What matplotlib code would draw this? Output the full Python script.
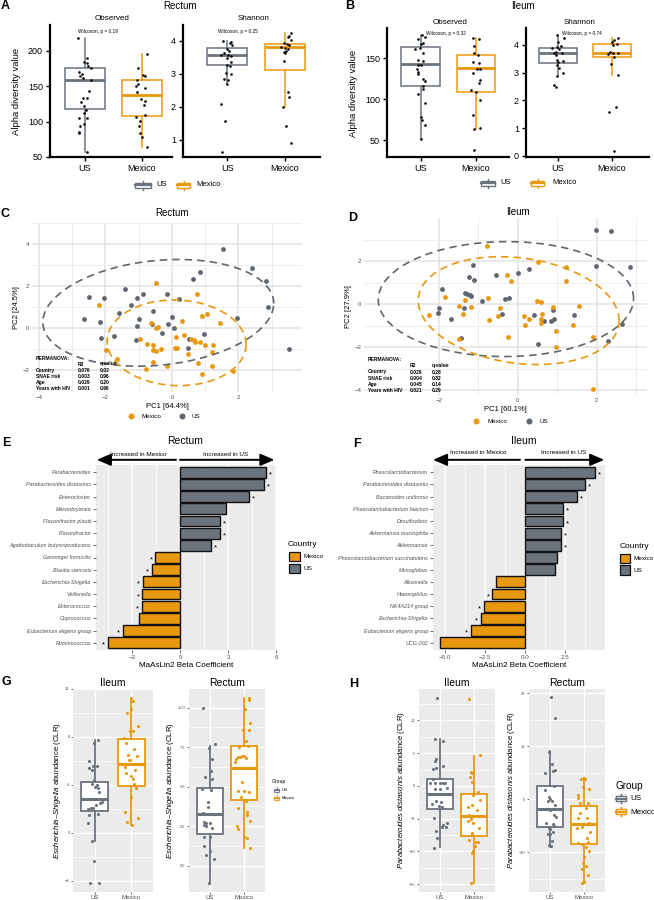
import numpy as np
import matplotlib
matplotlib.use("Agg")
import matplotlib.pyplot as plt
from matplotlib.patches import Rectangle
from matplotlib.lines import Line2D

plt.rcParams["font.family"] = ["Liberation Sans", "DejaVu Sans"]
plt.rcParams["mathtext.fontset"] = "custom"
plt.rcParams["mathtext.it"] = "Liberation Sans:italic"
plt.rcParams["mathtext.rm"] = "Liberation Sans"

W, H = 654, 900
US_COL = "#6B737C"
MX_COL = "#E8980E"
PCA_GRAY = "#5F6670"
BAR_GRAY = "#6B737B"

# ---------------- data ----------------
# A: rectum alpha diversity (values, jitter offsets)
a_obs_us = [219, 189.6, 184, 183, 178.8, 175.5, 170.8, 168, 165, 162, 158.5, 143.4, 133, 133,
            127.8, 121.7, 117, 112, 105.7, 104.7, 97, 93.4, 86, 84, 57]
a_obs_us_dx = [-0.13, 0.03, -0.02, 0.04, 0.06, 0.1, -0.1, -0.06, -0.08, -0.04, 0.1, 0.08, -0.04, 0.03,
               -0.07, -0.02, 0.02, -0.01, 0.04, -0.1, -0.02, -0.09, -0.1, -0.1, 0.04]
a_obs_mx = [195, 176, 165.6, 164, 159.4, 153.8, 151, 148, 142.5, 132.5, 129, 124, 109, 107, 101.4,
            93.4, 84, 78.3, 64]
a_obs_mx_dx = [0.09, -0.07, 0.02, 0.06, -0.09, -0.07, -0.1, 0.06, -0.09, -0.01, 0.06, 0.03, 0.06,
               -0.1, -0.03, -0.05, -0.04, 0.01, 0.09]
a_sha_us = [4.0, 3.97, 3.92, 3.87, 3.74, 3.7, 3.62, 3.57, 3.55, 3.52, 3.46, 3.36, 3.27, 3.24, 3.03,
            3.0, 2.83, 2.81, 2.68, 2.08, 1.57, 0.65]
a_sha_us_dx = [-0.07, 0.07, 0.05, 0.09, 0, 0.03, -0.05, 0.02, -0.1, 0.06, 0, 0.07, 0, 0.05, -0.02,
               0.06, -0.06, 0.02, -0.01, -0.1, -0.03, -0.09]
a_sha_mx = [4.24, 4.14, 4.1, 4.02, 3.92, 3.89, 3.86, 3.82, 3.79, 3.76, 3.7, 3.67, 3.62, 3.37, 2.44,
            2.31, 2.0, 1.43, 0.92]
a_sha_mx_dx = [0.1, 0.08, 0.06, 0.11, -0.02, 0.03, 0.08, -0.06, 0, 0.06, 0.02, -0.02, 0.01, -0.02,
               0.06, 0.07, -0.03, 0.02, 0.1]
# box stats: whislo, q1, median, q3, whishi
a_obs_box_us = [57, 118, 158.5, 176, 219]
a_obs_box_mx = [64, 108, 137.3, 158.5, 195]
a_sha_box_us = [2.68, 3.26, 3.55, 3.78, 4.0]
a_sha_box_mx = [2.0, 3.12, 3.8, 3.91, 4.22]

# B: ileum alpha diversity
b_obs_us = [177.5, 176, 172.7, 168, 167, 160.5, 162.5, 156.5, 148, 146, 142, 141, 136, 133, 131, 125,
            122, 116, 112.8, 106, 95, 77.5, 74, 68.6, 50.8]
b_obs_us_dx = [0.02, 0.07, -0.04, 0.05, 0.01, -0.1, -0.02, 0.04, -0.05, 0.04, -0.05, 0, -0.07, -0.04,
               -0.05, 0.04, 0.07, 0.04, 0.05, -0.05, 0.07, 0, 0.02, 0.07, 0]
b_obs_mx = [174, 172.7, 165, 156, 154, 145, 144.3, 137, 136, 132, 123, 119, 111.5, 108.3, 99.4, 80,
            65, 63, 38]
b_obs_mx_dx = [-0.05, 0.05, -0.04, -0.04, 0.04, -0.05, 0.05, 0.02, 0.07, -0.06, 0.08, 0.05, -0.08, 0,
               0.08, -0.05, 0.07, -0.04, -0.04]
b_sha_us = [4.36, 4.26, 4.12, 3.96, 3.94, 3.88, 3.84, 3.76, 3.7, 3.7, 3.64, 3.46, 3.42, 3.39, 3.28,
            3.16, 2.98, 2.88, 2.56, 2.47]
b_sha_us_dx = [-0.02, 0.11, 0, 0.05, -0.02, -0.1, 0.02, -0.03, -0.07, 0.07, -0.04, -0.01, 0.09, 0,
               -0.02, 0.03, 0.1, -0.01, -0.07, -0.04]
b_sha_mx = [4.26, 4.18, 4.12, 4.04, 4.0, 3.76, 3.72, 3.72, 3.68, 3.58, 3.3, 2.92, 1.78, 1.57, 0.19]
b_sha_mx_dx = [0.11, 0.05, 0, 0.09, 0.02, -0.04, 0.02, 0.11, -0.07, 0.04, -0.02, 0.11, 0.07, -0.06,
               0.05]
b_obs_box_us = [50.8, 116, 142.3, 163, 177.5]
b_obs_box_mx = [63, 108.3, 137.9, 154, 174]
b_sha_box_us = [2.88, 3.36, 3.7, 3.9, 4.36]
b_sha_box_mx = [2.92, 3.57, 3.72, 4.05, 4.26]

# C: rectum PCA
c_us_x = [1.53, 2.40, 0.83, 0.63, 2.83, -1.42, -0.87, -0.16, -2.50, -2.05, -1.04, 0.20, -1.22, 2.89,
          -0.56, -1.58, -2.64, -1.00, 1.97, 0.01, -2.18, -0.59, -0.11, -1.05, 0.07, -0.29, 0.96,
          -2.12, -1.74, -1.08, 0.51, 0.47, 3.53]
c_us_y = [3.77, 2.84, 2.67, 2.34, 2.24, 1.87, 1.61, 1.60, 1.49, 1.40, 1.43, 1.39, 1.10, 1.00, 0.80,
          0.73, 0.43, 0.41, 0.46, 0.53, 0.30, 0.20, 0.19, 0.09, 0.0, -0.27, -0.30, -0.49, -0.41,
          -0.59, -0.51, -0.94, -1.01]
c_mx_x = [-0.48, 0.74, -2.20, 1.05, 0.90, 0.30, 1.44, -0.64, -0.42, -0.48, 0.35, -0.97, 0.12, 0.56,
          0.65, 0.69, 0.85, -0.75, -0.56, 1.00, 1.23, -0.33, 0.10, 0.15, -0.58, -0.47, -1.98, 1.21,
          0.47, -1.64, -0.57, 0.78, -0.15, 1.21, -0.78, 1.83, 0.90]
c_mx_y = [2.16, 1.61, 1.09, 0.66, 0.56, 0.33, 0.21, 0.21, 0.04, -0.01, -0.33, -0.51, -0.43, -0.51,
          -0.57, -0.69, -0.67, -0.79, -0.84, -0.84, -0.84, -1.00, -0.94, -0.97, -1.07, -1.11, -1.07,
          -1.16, -1.23, -1.50, -1.61, -1.66, -1.80, -1.84, -1.97, -2.04, -2.19]

# D: ileum PCA
d_us_x = [1.97, 2.35, 1.97, 2.84, 0.28, -1.12, 0.0, -0.54, -1.24, -1.11, -1.92, -1.34, -1.28, -1.22,
          -1.18, -0.21, -0.32, -0.91, -1.98, -1.37, -2.02, -0.39, 0.41, 1.42, 0.89, 0.91, 0.66, 0.85,
          -1.69, 2.64, -1.43, 2.29, 0.51]
d_us_y = [3.44, 3.40, 1.75, 1.72, 1.61, 1.83, 1.44, 1.35, 1.24, 1.10, 0.71, 0.51, 0.48, 0.43, 0.36,
          0.29, 0.23, 0.14, -0.17, -0.20, -0.40, -0.47, -0.53, -0.51, -0.26, -0.68, -0.78, -0.79,
          -0.70, -0.93, -1.57, -1.71, -1.84]
d_mx_x = [-0.78, 0.51, 1.23, -0.27, -0.16, 1.22, -1.83, -0.75, -1.34, 0.49, 0.59, -1.49, 1.54, -1.18,
          0.89, -2.24, -0.44, -0.50, 0.15, -1.39, 0.62, 0.28, -0.72, 0.59, 0.19, 0.58, 1.40, 0.96,
          -0.24, -1.49, 1.91, 0.96, 1.90]
d_mx_y = [2.71, 1.94, 1.72, 1.33, 1.07, 1.05, 0.33, 0.28, 0.20, 0.14, 0.08, -0.09, -0.09, -0.12,
          -0.12, -0.53, -0.17, -0.56, -0.56, -0.45, -0.48, -0.71, -0.73, -0.70, -0.96, -0.88, -0.99,
          -1.27, -1.55, -1.61, -1.53, -2.0, -3.97]

perm_terms = ["Country", "SNAE risk", "Age", "Years with HIV"]
c_perm_r2 = ["0.076", "0.003", "0.029", "0.001"]
c_perm_q = ["0.02", "0.96", "0.20", "0.96"]
d_perm_r2 = ["0.029", "0.004", "0.045", "0.021"]
d_perm_q = ["0.28", "0.82", "0.14", "0.29"]

# E / F: MaAsLin2 coefficients
e_taxa = ["Parabacteroides", "Parabacteroides distasonis", "Enterocloster", "Marvinbryantia",
          "Flavonifractor plautii", "Flavonifractor", "Agathobaculum butyriciproducens",
          "Gemmiger formicilis", "Blautia stercoris", "Escherichia-Shigella", "Veillonella",
          "Enterococcus", "Coprococcus", "Eubacterium eligens group", "Ruminococcus"]
e_beta = [5.37, 5.23, 4.31, 2.90, 2.50, 2.50, 1.94, -1.54, -1.75, -2.31, -2.35, -2.40, -2.58,
          -3.58, -4.50]
e_sig = [1, 1, 1, 0, 1, 1, 1, 1, 1, 1, 1, 1, 0, 1, 1]
f_taxa = ["Phascolarctobacterium", "Parabacteroides distasonis", "Bacteroides uniformis",
          "Phascolarctobacterium faecium", "Desulfovibrio", "Akkermansia muciniphila", "Akkermansia",
          "Phascolarctobacterium succinatutens", "Monoglobus", "Allisonella", "Haemophilus",
          "NK4A214 group", "Escherichia-Shigella", "Eubacterium eligens group", "UCG-002"]
f_beta = [4.33, 3.71, 3.25, 2.33, 2.33, 2.25, 2.25, 1.96, 1.85, -1.83, -2.06, -2.60, -2.77, -3.40,
          -5.31]
f_sig = [1, 1, 1, 1, 1, 1, 1, 0, 0, 0, 1, 1, 1, 1, 0]

# G: Escherichia-Shigella CLR
g_il_us = [7.7, 7.5, 6.0, 5.4, 5.6, 5.6, 5.2, 4.4, 4.1, 4.0, 3.4, 3.8, 3.7, 2.8, 2.5, 2.6, 2.3, 2.1,
           2.0, 2.1, 1.45, 1.55, 0.78, -0.67, -2.36, -4.17, -4.17]
g_il_us_dx = [0.09, -0.02, -0.16, -0.17, -0.06, 0.05, -0.09, -0.02, -0.07, 0.05, 0.12, 0, 0.08, -0.02,
              0.14, 0.19, 0.03, -0.1, -0.18, -0.06, -0.16, 0.09, -0.18, -0.08, -0.01, -0.12, 0.12]
g_il_mx = [11.25, 11.0, 10.3, 10.0, 8.9, 8.5, 8.5, 7.9, 7.0, 6.5, 6.4, 6.1, 5.45, 5.2, 5.0, 4.7, 4.5,
           4.1, 3.7, 3.0, 1.75, 1.25, 0.92, 0.64, 7.45, 6.05]
g_il_mx_dx = [-0.01, 0.06, 0, -0.12, 0.19, 0.06, -0.03, -0.2, 0.08, -0.09, 0.17, -0.03, -0.18, 0.11,
              -0.14, 0, 0.06, 0.08, 0.14, -0.01, -0.17, 0.19, -0.11, 0.01, -0.15, -0.07]
g_re_us = [10.0, 7.68, 7.47, 6.73, 5.97, 5.59, 5.46, 4.84, 4.8, 4.05, 3.73, 3.35, 2.74, 2.72, 2.71,
           2.37, 2.6, 2.5, 1.8, 1.8, 1.27, 0.95, 0.68, 0.4, -1.07]
g_re_us_dx = [-0.19, 0.15, -0.03, 0.08, 0.03, -0.15, 0.06, -0.23, 0.04, -0.05, -0.06, -0.19, -0.18,
              -0.12, 0.02, 0.08, -0.16, -0.1, -0.17, 0.02, -0.17, 0, -0.12, 0.13, -0.02]
g_re_mx = [10.63, 10.49, 9.9, 9.0, 8.6, 8.6, 7.9, 7.9, 7.5, 7.55, 6.9, 6.92, 6.95, 6.85, 6.73, 6.17,
           6.17, 6.2, 6.8, 6.58, 5.28, 4.75, 4.75, 4.68, 4.33, 4.11, 3.63, 3.42, 3.2, 2.83, 2.51,
           2.34, 1.8, 1.75, 1.1]
g_re_mx_dx = [0.15, 0.15, 0.02, 0.18, -0.05, 0.15, -0.02, 0.04, -0.15, 0.12, -0.11, -0.07, -0.02,
              -0.17, -0.24, -0.05, -0.3, -0.1, 0.05, -0.27, -0.06, -0.17, 0, 0.14, -0.1, 0.05, -0.18,
              0.07, 0.08, 0.18, -0.2, -0.17, -0.01, 0.09, 0.17]
g_il_box_us = [-0.67, 1.8, 2.8, 4.25, 7.7]
g_il_box_mx = [0.64, 3.9, 5.7, 7.8, 11.2]
g_re_box_us = [-1.07, 2.0, 3.26, 4.94, 7.6]
g_re_box_mx = [1.14, 4.16, 6.2, 7.6, 10.6]

# H: Parabacteroides distasonis CLR
h_il_us = [13.5, 7.15, 6.84, 4.04, 3.8, 3.06, 2.55, 2.8, 1.07, 0.46, 0.5, 0.5, 0.46, 0.4, -0.4, -0.4,
           -0.3, -2.34, -2.4, -2.76, -3.1, -3.2, -4.95, -5.7, -5.9, -6.2, -6.2, -6.9, -7.96, -9.5]
h_il_us_dx = [-0.07, -0.14, 0.11, -0.11, -0.14, 0.11, -0.19, -0.11, -0.19, -0.12, 0, 0.09, 0.16,
              -0.27, -0.14, 0.02, 0.21, -0.1, 0.03, -0.21, -0.01, 0.07, -0.15, 0.21, 0.11, 0.07, 0.18,
              -0.1, -0.06, -0.15]
h_il_mx = [13.2, 4.7, 2.05, 2.0, 1.4, 0.6, -0.9, -1.4, -2.08, -2.96, -3.2, -3.7, -4.5, -4.7, -5.0,
           -5.36, -5.6, -6.5, -7.2, -7.5, -8.2, -8.6, -8.6, -9.1, -9.9, -10.3, -14.85]
h_il_mx_dx = [-0.15, 0.16, -0.1, -0.06, -0.12, -0.07, 0.1, -0.03, 0.16, -0.07, -0.19, 0.07, -0.15,
              -0.1, -0.09, -0.17, -0.04, 0.15, -0.06, -0.07, -0.15, 0.05, 0.12, 0.02, -0.03, -0.06,
              -0.1]
h_re_us = [19.3, 15.3, 9.0, 6.7, 5.6, 5.4, 4.9, 2.5, 1.76, 0.5, 0.1, -0.3, -0.4, -1.1, -2.0, -2.9,
           -3.3, -4.5, -4.7, -5.1, -5.4, -5.7, -6.1, -6.6, -6.6, -8.6, -7.9, -8.9]
h_re_us_dx = [0.04, 0.16, -0.03, 0.07, 0.16, 0.11, -0.12, 0.12, -0.14, -0.03, 0.02, -0.05, 0.08, 0.15,
              0, 0.14, 0.18, -0.09, 0.09, 0.14, -0.03, 0.02, 0.11, -0.05, 0, -0.03, 0.07, 0.04]
h_re_mx = [3.8, 3.95, 3.8, 2.4, 1.9, 0.8, 0.3, -0.76, -0.8, -1.6, -2.65, -3.6, -3.6, -4.4, -5.4, -5.2,
           -6.25, -7.3, -8.15, -8.3, -8.5, -9.0, -9.7, -10.9, -12.0, -12.6, -13.2, -14.3, -15.6, -15.8]
h_re_mx_dx = [-0.11, -0.02, 0.03, -0.04, 0.12, -0.19, -0.19, -0.14, 0.09, 0.04, -0.12, -0.17, 0.07,
              0.14, -0.21, -0.08, 0.15, 0.07, 0.11, -0.19, -0.07, 0.05, 0.14, -0.02, -0.05, 0.05,
              -0.07, 0.09, -0.02, -0.08]
h_il_box_us = [-9.4, -3.6, -1.3, 1.13, 7.1]
h_il_box_mx = [-14.8, -7.7, -4.64, -1.3, 4.6]
h_re_box_us = [-9.0, -5.3, -1.9, 2.58, 9.15]
h_re_box_mx = [-15.8, -8.5, -4.7, -1.2, 3.97]

groups = ["US", "Mexico"]

# ---------------- helpers ----------------
fig = plt.figure(figsize=(W / 100, H / 100), dpi=100)


def add_ax(x0, y0, x1, y1):
    return fig.add_axes([x0 / W, 1 - y1 / H, (x1 - x0) / W, (y1 - y0) / H])


def ftext(x, y, s, **kw):
    kw.setdefault("ha", "center")
    kw.setdefault("va", "center")
    return fig.text(x / W, 1 - y / H, s, **kw)


def fig_rect(x0, y0, x1, y1, **kw):
    fig.add_artist(Rectangle((x0 / W, 1 - y1 / H), (x1 - x0) / W, (y1 - y0) / H,
                             transform=fig.transFigure, **kw))


def fig_line(xs, ys, **kw):
    fig.add_artist(Line2D([x / W for x in xs], [1 - y / H for y in ys],
                          transform=fig.transFigure, **kw))


def box_key(x0, y0, x1, y1, color, lw=1.0, bg=None):
    if bg:
        fig_rect(x0, y0, x1, y1, facecolor=bg, edgecolor="none")
    w, h = x1 - x0, y1 - y0
    xm, ym = (x0 + x1) / 2, (y0 + y1) / 2
    fig_line([xm, xm], [y0 + 0.05 * h, y0 + 0.25 * h], color=color, lw=lw)
    fig_line([xm, xm], [y1 - 0.25 * h, y1 - 0.05 * h], color=color, lw=lw)
    fig_rect(x0 + 0.1 * w, y0 + 0.25 * h, x1 - 0.1 * w, y1 - 0.25 * h,
             facecolor="white", edgecolor=color, lw=lw)
    fig_line([x0 + 0.1 * w, x1 - 0.1 * w], [ym, ym], color=color, lw=lw * 1.6)


def boxes(ax, stats, colors, width, lw, med_lw):
    for pos, (s, c) in enumerate(zip(stats, colors), start=1):
        st = dict(whislo=s[0], q1=s[1], med=s[2], q3=s[3], whishi=s[4], fliers=[])
        ax.bxp([st], positions=[pos], widths=width, patch_artist=True, showfliers=False,
               showcaps=False, manage_ticks=False,
               boxprops=dict(facecolor="white", edgecolor=c, linewidth=lw),
               whiskerprops=dict(color=c, linewidth=lw),
               medianprops=dict(color=c, linewidth=med_lw, solid_capstyle="butt"))


def alpha_axes(rect, xlim, ylim, yticks, us, us_dx, mx, mx_dx, st_us, st_mx):
    ax = add_ax(*rect)
    boxes(ax, [st_us, st_mx], [US_COL, MX_COL], 0.7, 1.1, 2.0)
    ax.scatter(1 + np.asarray(us_dx), us, s=3.5, color="black", lw=0, zorder=4)
    ax.scatter(2 + np.asarray(mx_dx), mx, s=3.5, color="black", lw=0, zorder=4)
    ax.set_xlim(xlim)
    ax.set_ylim(ylim)
    ax.set_xticks([1, 2], groups)
    ax.set_yticks(yticks)
    for s in ["top", "right"]:
        ax.spines[s].set_visible(False)
    for s in ["left", "bottom"]:
        ax.spines[s].set_linewidth(1.6)
    ax.tick_params(labelsize=6.5, length=3, width=1.0, pad=2)
    return ax


def t_ellipse(ax, x, y, color, level=0.95, nu=5):
    # robust t ellipse, following MASS::cov.trob as used by ggplot2::stat_ellipse
    X0 = np.column_stack([x, y])
    n, p = X0.shape
    loc = X0.mean(axis=0)
    w = np.ones(n)
    for _ in range(25):
        w_old = w
        X = X0 - loc
        cov_i = (w / w.sum())[:, None] * X
        cov_i = cov_i.T @ X
        q = np.einsum("ij,jk,ik->i", X, np.linalg.inv(cov_i), X)
        w = (nu + p) / (nu + q)
        loc = (w[:, None] * X0).sum(axis=0) / w.sum()
        if np.all(np.abs(w - w_old) < 0.01):
            break
    cov = (w[:, None] * X).T @ X / n
    d2 = n - 1
    fq = (d2 / 2) * ((1 - level) ** (-2 / d2) - 1)  # F quantile with dfn = 2
    radius = np.sqrt(2 * fq)
    t = np.linspace(0, 2 * np.pi, 200)
    circle = np.column_stack([np.cos(t), np.sin(t)])
    chol = np.linalg.cholesky(cov).T
    pts = loc + radius * circle @ chol
    ax.plot(pts[:, 0], pts[:, 1], color=color, lw=1.2, ls=(0, (4.5, 3)), zorder=4)


def pca_axes(rect, xlim, ylim, xticks, yticks, us_x, us_y, mx_x, mx_y, xlabel, ylabel):
    ax = add_ax(*rect)
    for s in ax.spines.values():
        s.set_visible(False)
    ax.set_xlim(xlim)
    ax.set_ylim(ylim)
    ax.set_xticks(xticks)
    ax.set_yticks(yticks)
    ax.set_xticks([v + 1 for v in xticks], minor=True)
    ax.set_yticks([v + 1 for v in yticks], minor=True)
    ax.grid(True, which="major", color="#E3E3E3", lw=1.1)
    ax.grid(True, which="minor", color="#EDEDED", lw=0.7)
    ax.set_axisbelow(True)
    ax.tick_params(which="both", length=0, labelsize=4.3, labelcolor="#4D4D4D", pad=2)
    ax.scatter(us_x, us_y, s=12, color=PCA_GRAY, lw=0, zorder=3)
    ax.scatter(mx_x, mx_y, s=12, color=MX_COL, lw=0, zorder=3)
    t_ellipse(ax, us_x, us_y, PCA_GRAY)
    t_ellipse(ax, mx_x, mx_y, MX_COL)
    ax.set_xlabel(xlabel, fontsize=5.5, labelpad=2)
    ax.set_ylabel(ylabel, fontsize=5.5, labelpad=2)
    return ax


def bar_axes(rect, xlim, xticks, xlabels, xminor, taxa, beta, sig):
    ax = add_ax(*rect)
    ax.set_facecolor("#EBEBEB")
    for s in ax.spines.values():
        s.set_visible(False)
    n = len(taxa)
    ypos = np.arange(n)[::-1]
    cols = [BAR_GRAY if v > 0 else MX_COL for v in beta]
    ax.barh(ypos, beta, height=0.9, color=cols, edgecolor="#111111", lw=1.0, zorder=3)
    for y, v, s in zip(ypos, beta, sig):
        if s:
            ax.text(v + (0.27 if v > 0 else -0.27), y - 0.2, "*", ha="center", va="center",
                    fontsize=5.5, zorder=4)
    ax.set_xlim(xlim)
    ax.set_ylim(-0.6, n - 0.4)
    ax.set_yticks(ypos, taxa, fontstyle="italic")
    ax.set_xticks(xticks, xlabels)
    ax.set_xticks(xminor, minor=True)
    ax.grid(True, axis="x", which="major", color="white", lw=1.1)
    ax.grid(True, axis="x", which="minor", color="white", lw=0.6)
    ax.set_axisbelow(True)
    ax.tick_params(axis="y", which="major", length=2, width=0.5, color="#333333", labelsize=3.9,
                   labelcolor="#4D4D4D", pad=1.5)
    ax.tick_params(axis="x", which="major", length=2, width=0.5, color="#333333", labelsize=4.5,
                   labelcolor="#4D4D4D", pad=1.5)
    ax.tick_params(which="minor", length=0)
    ax.set_xlabel("MaAsLin2 Beta Coefficient", fontsize=5.8, labelpad=1.5)
    return ax


def arrows(ax, left_from, left_to, right_from, right_to, y=1.028):
    props = dict(arrowstyle="-|>,head_length=0.7,head_width=0.3", lw=1.4, color="black",
                 mutation_scale=12, shrinkA=0, shrinkB=0)
    for a, b in [(left_from, left_to), (right_from, right_to)]:
        ax.annotate("", xy=(b, y), xytext=(a, y), xycoords=("data", "axes fraction"),
                    textcoords=("data", "axes fraction"), arrowprops=props, annotation_clip=False)


def clr_axes(rect, ylim, yticks, ylabels, yminor, us, us_dx, mx, mx_dx, st_us, st_mx, title,
             ylabel=None):
    ax = add_ax(*rect)
    ax.set_facecolor("#EBEBEB")
    for s in ax.spines.values():
        s.set_visible(False)
    ax.set_xlim(0.4, 2.6)
    ax.set_ylim(ylim)
    ax.set_xticks([1, 2], groups)
    ax.set_yticks(yticks, ylabels)
    ax.set_yticks(yminor, minor=True)
    ax.grid(True, which="major", color="white", lw=1.0)
    ax.grid(True, axis="y", which="minor", color="white", lw=0.5)
    ax.set_axisbelow(True)
    boxes(ax, [st_us, st_mx], [US_COL, MX_COL], 0.75, 1.3, 2.2)
    ax.scatter(1 + np.asarray(us_dx), us, s=5, color=US_COL, lw=0, zorder=4)
    ax.scatter(2 + np.asarray(mx_dx), mx, s=5, color=MX_COL, lw=0, zorder=4)
    ax.tick_params(axis="x", labelsize=4.3, labelcolor="#4D4D4D", length=1.5, width=0.4, pad=1)
    ax.tick_params(axis="y", labelsize=2.8, labelcolor="#4D4D4D", length=1.5, width=0.4, pad=1)
    ax.tick_params(which="minor", length=0)
    ax.set_title(title, fontsize=7.5, pad=2)
    if ylabel:
        ax.set_ylabel(ylabel, fontsize=5.6, labelpad=1.5)
    return ax


# ---------------- panel A ----------------
ftext(5, 6, "A", fontsize=9, fontweight="bold")
ftext(180, 6, "Rectum", fontsize=7)
alpha_axes((50, 25, 172, 157), (0.386, 2.53), (50, 236.7), [50, 100, 150, 200],
           a_obs_us, a_obs_us_dx, a_obs_mx, a_obs_mx_dx, a_obs_box_us, a_obs_box_mx)
alpha_axes((183, 25, 320, 157), (0.235, 2.61), (0.486, 4.47), [1, 2, 3, 4],
           a_sha_us, a_sha_us_dx, a_sha_mx, a_sha_mx_dx, a_sha_box_us, a_sha_box_mx)
ftext(112, 19, "Observed", fontsize=5.8)
ftext(254, 19, "Shannon", fontsize=5.8)
ftext(98, 32, "Wilcoxon, p = 0.19", fontsize=3.4)
ftext(238, 32, "Wilcoxon, p = 0.25", fontsize=3.4)
ftext(17, 91, "Alpha diversity value", fontsize=6.8, rotation=90)
box_key(133, 180, 153, 190, US_COL, lw=1.0)
ftext(156, 185, "US", fontsize=5.5, ha="left")
box_key(175, 180, 192, 190, MX_COL, lw=1.0)
ftext(196, 185, "Mexico", fontsize=5.5, ha="left")

# ---------------- panel B ----------------
ftext(350, 6, "B", fontsize=9, fontweight="bold")
ftext(523, 6, "Ileum", fontsize=7)
alpha_axes((387, 28, 509, 157), (0.39, 2.6), (29.3, 186.6), [50, 100, 150],
           b_obs_us, b_obs_us_dx, b_obs_mx, b_obs_mx_dx, b_obs_box_us, b_obs_box_mx)
alpha_axes((526, 28, 649, 157), (0.41, 2.69), (-0.04, 4.61), [0, 1, 2, 3, 4],
           b_sha_us, b_sha_us_dx, b_sha_mx, b_sha_mx_dx, b_sha_box_us, b_sha_box_mx)
ftext(450, 23, "Observed", fontsize=5.8)
ftext(580, 23, "Shannon", fontsize=5.8)
ftext(446, 33, "Wilcoxon, p = 0.32", fontsize=3.4)
ftext(582, 33, "Wilcoxon, p = 0.74", fontsize=3.4)
ftext(354, 93, "Alpha diversity value", fontsize=6.8, rotation=90)
box_key(479, 178, 497, 188, US_COL, lw=1.0)
ftext(500, 183, "US", fontsize=5.5, ha="left")
box_key(529, 178, 546, 188, MX_COL, lw=1.0)
ftext(552, 183, "Mexico", fontsize=5.5, ha="left")

# ---------------- panel C ----------------
ftext(5, 214, "C", fontsize=9, fontweight="bold")
ftext(172, 213, "Rectum", fontsize=7)
pca_axes((32, 223, 302, 392), (-4.21, 3.91), (-3.06, 4.19), [-4, -2, 0, 2], [-2, 0, 2, 4],
         c_us_x, c_us_y, c_mx_x, c_mx_y, "PC1 [64.4%]", "PC2 [24.5%]")
ftext(36, 358, "PERMANOVA:", fontsize=3.6, fontweight="bold", ha="left")
ftext(78, 364, "R2", fontsize=3.6, fontweight="bold", ha="left")
ftext(100, 364, "q-value", fontsize=3.6, fontweight="bold", ha="left")
for i, (t, r, q) in enumerate(zip(perm_terms, c_perm_r2, c_perm_q)):
    yy = 370.3 + i * 6.2
    ftext(36, yy, t, fontsize=3.6, fontweight="bold", ha="left")
    ftext(78, yy, r, fontsize=3.6, fontweight="bold", ha="left")
    ftext(100, yy, q, fontsize=3.6, fontweight="bold", ha="left")
fig_line([131], [416], marker="o", ms=3.3, color=MX_COL, lw=0)
ftext(141, 416, "Mexico", fontsize=4.5, ha="left")
fig_line([182], [416], marker="o", ms=3.3, color=PCA_GRAY, lw=0)
ftext(191, 416, "US", fontsize=4.5, ha="left")

# ---------------- panel D ----------------
ftext(353, 218, "D", fontsize=9, fontweight="bold")
ftext(518, 212, "Ileum", fontsize=7)
pca_axes((364, 218, 647, 395), (-3.89, 3.27), (-4.23, 4.0), [-2, 0, 2], [-4, -2, 0, 2],
         d_us_x, d_us_y, d_mx_x, d_mx_y, "PC1 [60.1%]", "PC2 [27.9%]")
ftext(368, 359.3, "PERMANOVA:", fontsize=3.6, fontweight="bold", ha="left")
ftext(410, 365.7, "R2", fontsize=3.6, fontweight="bold", ha="left")
ftext(432, 365.7, "q-value", fontsize=3.6, fontweight="bold", ha="left")
for i, (t, r, q) in enumerate(zip(perm_terms, d_perm_r2, d_perm_q)):
    yy = 372 + i * 6.2
    ftext(368, yy, t, fontsize=3.6, fontweight="bold", ha="left")
    ftext(410, yy, r, fontsize=3.6, fontweight="bold", ha="left")
    ftext(432, yy, q, fontsize=3.6, fontweight="bold", ha="left")
fig_line([476], [421], marker="o", ms=3.3, color=MX_COL, lw=0)
ftext(487, 421, "Mexico", fontsize=4.5, ha="left")
fig_line([529], [421], marker="o", ms=3.3, color=PCA_GRAY, lw=0)
ftext(540, 421, "US", fontsize=4.5, ha="left")

# ---------------- panel E ----------------
ftext(6, 443, "E", fontsize=9, fontweight="bold")
ftext(185, 441, "Rectum", fontsize=7.5)
ax_e = bar_axes((96, 465, 277, 650), (-5.25, 6.06), [-3, 0, 3, 6], ["\u22123", "0", "3", "6"],
                [-4.5, -1.5, 1.5, 4.5], e_taxa, e_beta, e_sig)
arrows(ax_e, -0.25, -5.2, 0.0, 5.9)
ftext(138, 454, "Increased in Mexico", fontsize=4.6)
ftext(226, 454, "Increased in US", fontsize=4.6)
ftext(288, 544, "Country", fontsize=6, ha="left")
fig_rect(289, 552, 300, 561, facecolor=MX_COL, edgecolor="#111111", lw=0.9)
ftext(303, 556.5, "Mexico", fontsize=4.6, ha="left")
fig_rect(289, 563.5, 300, 572.5, facecolor=BAR_GRAY, edgecolor="#111111", lw=0.9)
ftext(303, 568, "US", fontsize=4.6, ha="left")

# ---------------- panel F ----------------
ftext(357, 444, "F", fontsize=9, fontweight="bold")
ftext(524, 441, "Ileum", fontsize=7.5)
ax_f = bar_axes((433, 465, 605, 650), (-5.77, 4.98), [-5, -2.5, 0, 2.5],
                ["\u22125.0", "\u22122.5", "0.0", "2.5"], [-3.75, -1.25, 1.25, 3.75],
                f_taxa, f_beta, f_sig)
arrows(ax_f, -0.33, -5.77, 0.0, 4.93)
ftext(478, 453, "Increased in Mexico", fontsize=4.6)
ftext(564, 453, "Increased in US", fontsize=4.6)
ftext(620, 546, "Country", fontsize=6, ha="left")
fig_rect(620, 553.5, 630, 563, facecolor=MX_COL, edgecolor="#111111", lw=0.9)
ftext(634, 558, "Mexico", fontsize=4.6, ha="left")
fig_rect(620, 565, 630, 574.5, facecolor=BAR_GRAY, edgecolor="#111111", lw=0.9)
ftext(634, 570, "US", fontsize=4.6, ha="left")

# ---------------- panel G ----------------
ftext(6, 682, "G", fontsize=9, fontweight="bold")
g_lab = r"$\mathit{Escherichia}$–$\mathit{Shigella}$ abundance (CLR)"
clr_axes((73, 689, 153, 892), (-4.95, 12.0), [-4, 0, 4, 8, 12], ["\u22124", "0", "4", "8", "12"],
         [-2, 2, 6, 10], g_il_us, g_il_us_dx, g_il_mx, g_il_mx_dx, g_il_box_us, g_il_box_mx,
         "Ileum", g_lab)
clr_axes((189, 689, 265, 892), (-1.66, 11.18), [0, 2.5, 5, 7.5, 10],
         ["0.0", "2.5", "5.0", "7.5", "10.0"], [1.25, 3.75, 6.25, 8.75],
         g_re_us, g_re_us_dx, g_re_mx, g_re_mx_dx, g_re_box_us, g_re_box_mx, "Rectum", g_lab)
ftext(272, 782, "Group", fontsize=3.6, ha="left")
box_key(273, 787, 280, 793, US_COL, lw=0.6, bg="#F2F2F2")
ftext(282, 790, "US", fontsize=3.0, ha="left")
box_key(273, 795, 280, 801, MX_COL, lw=0.6, bg="#F2F2F2")
ftext(282, 798, "Mexico", fontsize=3.0, ha="left")

# ---------------- panel H ----------------
ftext(354, 684, "H", fontsize=9, fontweight="bold")
h_lab = r"$\mathit{Parabacteroides\ distasonis}$ abundance (CLR)"
clr_axes((418.7, 689, 495, 892), (-16.2, 14.8), [-15, -10, -5, 0, 5, 10],
         ["\u221215", "\u221210", "\u22125", "0", "5", "10"], [-12.5, -7.5, -2.5, 2.5, 7.5, 12.5],
         h_il_us, h_il_us_dx, h_il_mx, h_il_mx_dx, h_il_box_us, h_il_box_mx, "Ileum", h_lab)
clr_axes((528.7, 689, 605.3, 892), (-17.5, 20.8), [-10, 0, 10, 20],
         ["\u221210", "0", "10", "20"], [-15, -5, 5, 15],
         h_re_us, h_re_us_dx, h_re_mx, h_re_mx_dx, h_re_box_us, h_re_box_mx, "Rectum", h_lab)
ftext(615, 786, "Group", fontsize=7.2, ha="left")
box_key(615, 794, 627, 803.5, US_COL, lw=1.0, bg="#F2F2F2")
ftext(630, 799, "US", fontsize=5.8, ha="left")
box_key(615, 807, 627, 816.5, MX_COL, lw=1.0, bg="#F2F2F2")
ftext(630, 812, "Mexico", fontsize=5.8, ha="left")

fig.savefig("out.png", dpi=100)
